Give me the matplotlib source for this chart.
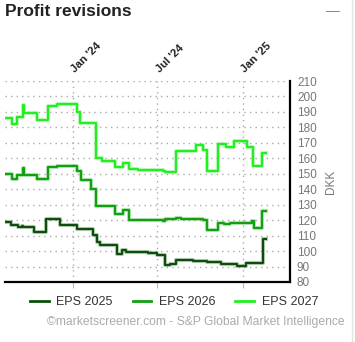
import numpy as np
import pandas as pd
import matplotlib
matplotlib.use("Agg")
import matplotlib.pyplot as plt
import matplotlib.patheffects as pe
from matplotlib.lines import Line2D

plt.rcParams['font.family'] = ['Liberation Sans', 'DejaVu Sans']

# step change dates and values (DKK)
eps25_dates = ["2023-08-08", "2023-08-20", "2023-09-05", "2023-09-13", "2023-09-16",
               "2023-10-10", "2023-11-04", "2023-12-04", "2024-01-09", "2024-02-14",
               "2024-02-21", "2024-02-28", "2024-04-04", "2024-04-15", "2024-04-25",
               "2024-06-10", "2024-07-01", "2024-07-17", "2024-07-28", "2024-08-09",
               "2024-09-15", "2024-10-15", "2024-11-15", "2024-12-18", "2025-01-08",
               "2025-02-14", "2025-02-19"]
eps25_vals = [118.5, 117, 115.3, 116.5, 115.3,
              112.4, 120.5, 116.7, 114.5, 110.2,
              105.9, 103.8, 98, 100.6, 99.6,
              98.6, 97.6, 91, 91.5, 94.2,
              93.3, 92.7, 91.6, 90.3, 92,
              107.5, 107.5]

eps26_dates = ["2023-08-08", "2023-08-22", "2023-09-03", "2023-09-16", "2023-09-18",
               "2023-10-15", "2023-11-08", "2023-11-28", "2024-01-09", "2024-01-18",
               "2024-02-10", "2024-02-19", "2024-03-31", "2024-04-18", "2024-05-01",
               "2024-07-13", "2024-07-17", "2024-08-09", "2024-08-20", "2024-10-07",
               "2024-10-15", "2024-11-09", "2024-11-20", "2024-12-05", "2025-01-20",
               "2025-01-25", "2025-02-11", "2025-02-19"]
eps26_vals = [150, 146.3, 149, 154, 149,
              146.7, 154.2, 154.8, 152, 146,
              140.3, 129, 124.2, 126.3, 120.3,
              119.5, 120.5, 121.6, 120.5, 120,
              113.5, 118.4, 117.4, 118.4, 119.5,
              115, 126, 126]

eps27_dates = ["2023-08-08", "2023-08-22", "2023-09-03", "2023-09-16", "2023-09-18",
               "2023-10-15", "2023-11-08", "2023-11-28", "2024-01-09", "2024-01-16",
               "2024-02-19", "2024-03-03", "2024-03-31", "2024-04-18", "2024-05-01",
               "2024-05-21", "2024-07-13", "2024-07-17", "2024-08-09", "2024-09-22",
               "2024-10-07", "2024-10-15", "2024-11-09", "2024-11-25", "2024-12-13",
               "2025-01-10", "2025-01-22", "2025-02-11", "2025-02-19"]
eps27_vals = [186, 182, 186.5, 194.5, 189,
              185, 194, 195, 190, 183,
              160.5, 158.5, 154.5, 157, 153,
              152.5, 151.5, 151, 165, 168.5,
              165.5, 151.7, 169.4, 167.5, 171.4,
              167.5, 155.3, 163.2, 163.2]

labels = ["EPS 2025", "EPS 2026", "EPS 2027"]
colors = ["#0b4f0b", "#10a010", "#22ee22"]
tick_dates = ["2024-01-01", "2024-07-01", "2025-01-01"]
tick_labels = ["Jan '24", "Jul '24", "Jan '25"]

fig = plt.figure(figsize=(3.55, 3.42), dpi=100)
ax = fig.add_axes([5/355, 1-282/342, 285/355, 201/342])

series = [(eps25_dates, eps25_vals), (eps26_dates, eps26_vals), (eps27_dates, eps27_vals)]
for (d, v), c in zip(series, colors):
    ax.step(pd.to_datetime(d), v, where='post', color=c, lw=1.5,
            path_effects=[pe.Stroke(linewidth=3, foreground=c, alpha=0.3), pe.Normal()],
            zorder=3)

ax.set_xlim(pd.Timestamp("2023-08-08"), pd.Timestamp("2025-04-12"))
ax.set_ylim(80, 210)
ax.set_yticks(np.arange(80, 211, 10))
ax.yaxis.tick_right()
ax.tick_params(axis='y', length=0, pad=5, labelsize=8.5, labelcolor='#777777')
ax.set_ylabel("DKK", color='#777777', fontsize=8.5, labelpad=6)
ax.yaxis.set_label_position('right')

ax.set_xticks(pd.to_datetime(tick_dates))
ax.set_xticklabels(tick_labels)
ax.tick_params(axis='x', bottom=True, top=False, labelbottom=False, labeltop=True,
               length=4, color='#bbbbbb', width=0.8, pad=3)
for lab in ax.get_xticklabels():
    lab.set_rotation(45)
    lab.set_rotation_mode('anchor')
    lab.set_ha('left')
    lab.set_va('center')
    lab.set_fontsize(8)
    lab.set_fontweight('bold')
    lab.set_color('#222222')

ax.grid(True, color='#aaaaaa', linestyle=(0, (1, 3)), linewidth=1)
for s in ['left', 'top']:
    ax.spines[s].set_visible(False)
for s in ['bottom', 'right']:
    ax.spines[s].set_color('black')
    ax.spines[s].set_linewidth(1.6)

fig.text(5/355, 1-11/342, "Profit revisions", fontsize=12.5, fontweight='bold',
         color='#222222', va='center', ha='left')
fig.text(333/355, 1-11/342, "\u2014", fontsize=10, color='#888888', va='center', ha='center')
fig.add_artist(Line2D([352/355, 352/355], [0, 1], color='#e3e3e3', lw=1))

handles = [Line2D([], [], color=c, lw=2) for c in colors]
fig.legend(handles, labels, loc='center', bbox_to_anchor=(174/355, 1-302/342), ncol=3,
           frameon=False, fontsize=9, handlelength=1.5, columnspacing=1.6, handletextpad=0.6,
           labelcolor='#333333')
fig.text(196/355, 1-322/342, "\u00a9marketscreener.com - S&P Global Market Intelligence",
         fontsize=8.7, color='#aaaaaa', ha='center', va='center')

fig.savefig("out.png", dpi=100)
